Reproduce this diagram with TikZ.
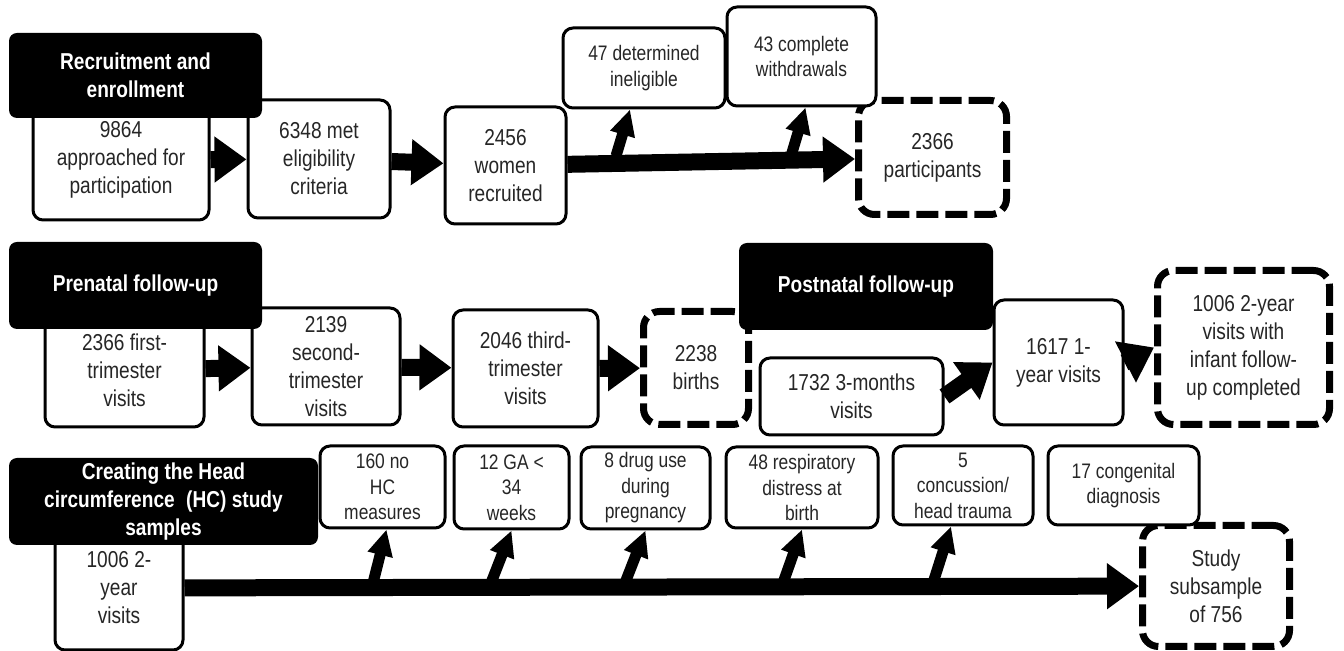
\documentclass[tikz,border=0pt]{standalone}
\usepackage{fontspec}
\setmainfont{Liberation Sans}[FakeStretch=0.83]
\usepackage{tikz}
\usetikzlibrary{arrows.meta}
\newcommand{\boxfont}{\fontsize{11.5}{14}\selectfont}
\newcommand{\exfont}{\fontsize{10.5}{12.75}\selectfont}

\begin{document}
\begin{tikzpicture}[x=0.5pt, y=-0.5pt,
  box/.style={draw, line width=1.5pt, rounded corners=5pt, fill=white, align=center, inner sep=1pt, font=\boxfont, text=black!85},
  exbox/.style={box, font=\exfont},
  dbox/.style={box, line width=3.5pt, dash pattern=on 11pt off 3.5pt, rounded corners=8pt},
  hdr/.style={fill=black, rounded corners=4pt, align=center, inner sep=1pt, text=white, font=\boxfont\bfseries},
  bigarrow/.style={line width=8.5pt, -{Triangle[length=16pt, width=22pt]}},
  uparrow/.style={line width=5.5pt, -{Triangle[length=13pt, width=12pt]}}]
\useasboundingbox (0,0) rectangle (1344,651);
%dashed end boxes
\node[dbox, minimum width=74pt, minimum height=57pt] (b2366p) at (932.5,157.5) {2366\\participants};
\node[dbox, minimum width=52.5pt, minimum height=56.5pt] (b2238) at (696,368) {2238\\births};
\node[dbox, minimum width=86pt, minimum height=77pt] (b1006v) at (1243.5,347.5) {1006 2-year\\visits with\\infant follow-\\up completed};
\node[dbox, minimum width=73.5pt, minimum height=60.5pt] (b756) at (1216,586) {Study\\subsample\\of 756};
%recruitment
\node[box, minimum width=88pt, minimum height=60pt] (b9864) at (121,160) {9864\\approached for\\participation};
\node[box, minimum width=71pt, minimum height=59pt] (b6348) at (319,159) {6348 met\\eligibility\\criteria};
\node[box, minimum width=60.5pt, minimum height=58.5pt] (b2456) at (505.5,165.5) {2456\\women\\recruited};
\node[exbox, minimum width=81pt, minimum height=40pt] (b47) at (644,68) {47 determined\\ineligible};
\node[exbox, minimum width=74.5pt, minimum height=49.5pt] (b43) at (801.5,56.5) {43 complete\\withdrawals};
%prenatal and postnatal
\node[box, minimum width=79.5pt, minimum height=57pt] (b2366f) at (124.5,370) {2366 first-\\trimester\\visits};
\node[box, minimum width=74pt, minimum height=58.5pt] (b2139) at (326,366.5) {2139\\second-\\trimester\\visits};
\node[box, minimum width=72.5pt, minimum height=58.5pt] (b2046) at (525.5,368.5) {2046 third-\\trimester\\visits};
\node[box, minimum width=91.5pt, minimum height=38.5pt] (b1732) at (851.5,396.5) {1732 3-months\\visits};
\node[box, minimum width=64.5pt, minimum height=62.5pt] (b1617) at (1058.5,362.5) {1617 1-\\year visits};
%HC sample
\node[box, minimum width=64pt, minimum height=62pt] (b1006y) at (119,588) {1006 2-\\year\\visits};
\node[exbox, minimum width=62.5pt, minimum height=41pt] (b160) at (382.5,487) {160 no\\HC\\measures};
\node[exbox, minimum width=57.5pt, minimum height=41.5pt] (b12) at (511.5,487.5) {12 GA <\\34\\weeks};
\node[exbox, minimum width=64.5pt, minimum height=41pt] (b8) at (645.5,488) {8 drug use\\during\\pregnancy};
\node[exbox, minimum width=76pt, minimum height=40.5pt] (b48) at (802,487.5) {48 respiratory\\distress at\\birth};
\node[exbox, minimum width=70pt, minimum height=39.5pt] (b5) at (963,485.5) {5\\concussion/\\head trauma};
\node[exbox, minimum width=75.5pt, minimum height=39.5pt] (b17) at (1123.5,485.5) {17 congenital\\diagnosis};
%headers
\node[hdr, minimum width=126.5pt, minimum height=42.5pt] (h1) at (135.5,75.5) {Recruitment and\\enrollment};
\node[hdr, minimum width=126.5pt, minimum height=43.5pt] (h2) at (135.5,285.5) {Prenatal follow-up};
\node[hdr, minimum width=127pt, minimum height=43.5pt] (h3) at (866,286.5) {Postnatal follow-up};
\node[hdr, minimum width=154.5pt, minimum height=43.5pt] (h4) at (163.5,501.5) {Creating the Head\\circumference\enspace(HC) study\\samples};
%arrows
\draw[bigarrow] (b9864) -- (b6348);
\draw[bigarrow] (b6348) -- (b2456);
\draw[bigarrow] (b2456) -- (b2366p);
\coordinate (s47) at (616,156);
\coordinate (s43) at (791,156);
\draw[uparrow] (s47) -- ([xshift=-7pt]b47.south);
\draw[uparrow] (s43) -- ([xshift=2pt]b43.south);
\draw[bigarrow] (b2366f) -- (b2139);
\draw[bigarrow] (b2139) -- (b2046);
\draw[bigarrow] (b2046) -- (b2238);
\draw[bigarrow] (b1732.east) -- (b1617.west);
\draw[bigarrow] (b1617.east) -- (b1006v.west);
\draw[bigarrow] (b1006y) -- (b756);
\foreach \n/\x/\dx in {b160/373/2pt, b12/491/0pt, b8/625/0pt, b48/783/0pt, b5/933/-6pt}{
  \coordinate (s\n) at (\x,583);
  \draw[uparrow] (s\n) -- ([xshift=\dx]\n.south);
}
\end{tikzpicture}
\end{document}
